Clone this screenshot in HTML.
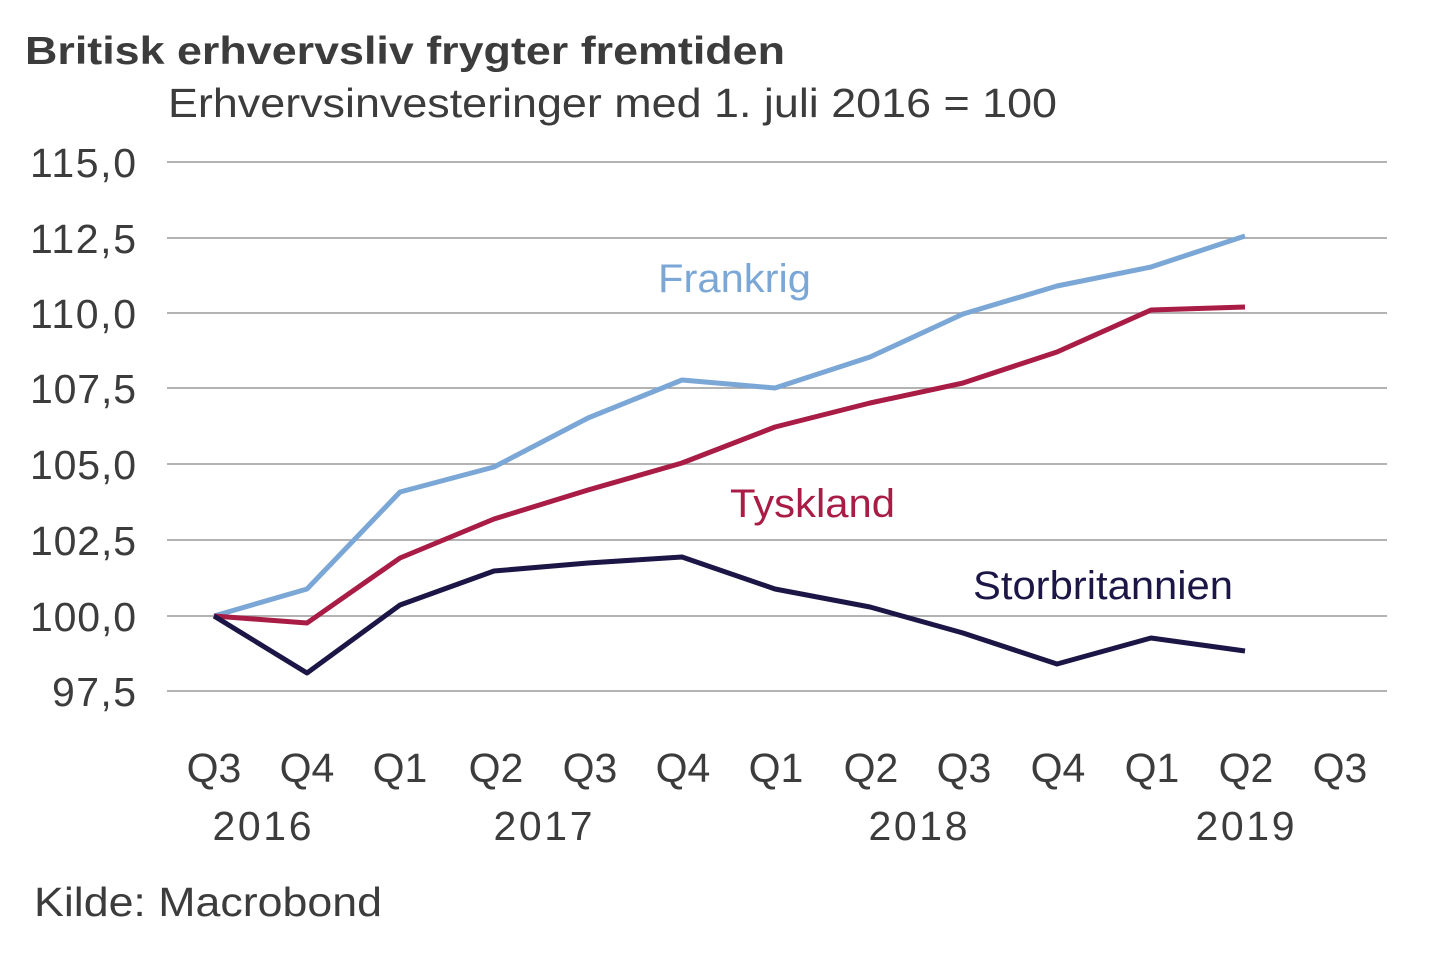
<!DOCTYPE html>
<html><head><meta charset="utf-8"><style>
html,body{margin:0;padding:0;background:#fff;}
svg{display:block;font-family:"Liberation Sans",Arial,sans-serif;}
</style></head><body>
<svg width="1440" height="960" viewBox="0 0 1440 960">
<text x="25" y="64" font-size="39" font-weight="bold" fill="#3c3c3c" textLength="760" lengthAdjust="spacingAndGlyphs">Britisk erhvervsliv frygter fremtiden</text>
<text x="168" y="117" font-size="41" fill="#3c3c3c" textLength="889" lengthAdjust="spacingAndGlyphs">Erhvervsinvesteringer med 1. juli 2016 = 100</text>
<g stroke="#9a9a9a" stroke-width="1.5">
<line x1="167" x2="1387" y1="162" y2="162"/><line x1="167" x2="1387" y1="238" y2="238"/>
<line x1="167" x2="1387" y1="313" y2="313"/><line x1="167" x2="1387" y1="388" y2="388"/>
<line x1="167" x2="1387" y1="464" y2="464"/><line x1="167" x2="1387" y1="540" y2="540"/>
<line x1="167" x2="1387" y1="616" y2="616"/><line x1="167" x2="1387" y1="691" y2="691"/>
</g>
<g font-size="41" fill="#3c3c3c" lengthAdjust="spacingAndGlyphs">
<text x="30" y="177" textLength="106">115,0</text><text x="30" y="253" textLength="106">112,5</text><text x="30" y="328" textLength="106">110,0</text>
<text x="30" y="403" textLength="106">107,5</text><text x="30" y="479" textLength="106">105,0</text><text x="30" y="555" textLength="106">102,5</text>
<text x="30" y="631" textLength="106">100,0</text><text x="52" y="706" textLength="84">97,5</text>
</g>
<g font-size="41" fill="#3c3c3c" text-anchor="middle">
<text x="214" y="782">Q3</text><text x="307" y="782">Q4</text><text x="400" y="782">Q1</text>
<text x="496" y="782">Q2</text><text x="590" y="782">Q3</text><text x="683" y="782">Q4</text>
<text x="776" y="782">Q1</text><text x="871" y="782">Q2</text><text x="964" y="782">Q3</text>
<text x="1058" y="782">Q4</text><text x="1152" y="782">Q1</text><text x="1246" y="782">Q2</text>
<text x="1340" y="782">Q3</text>
<text x="262" y="840" textLength="99">2016</text><text x="543" y="840" textLength="99">2017</text><text x="918" y="840" textLength="99">2018</text><text x="1245" y="840" textLength="99">2019</text>
</g>
<g fill="none" stroke-width="5" stroke-linejoin="round">
<polyline stroke="#7ba7d7" points="214,616 307,589 400,492 494,467 588,418 682,380 775,388 870,357 963,314 1057,286 1151,267 1245,236"/>
<polyline stroke="#a81c45" points="214,616 307,623 400,558 494,519 588,490 682,463 775,427 870,403 963,383 1057,352 1151,310 1245,307"/>
<polyline stroke="#1b1646" points="214,616 307,673 400,605 494,571 588,563 682,557 775,589 870,607 963,633 1057,664 1151,638 1245,651"/>
</g>
<text x="658" y="292" font-size="40" fill="#7ba7d7" textLength="153" lengthAdjust="spacingAndGlyphs">Frankrig</text>
<text x="730" y="517" font-size="40" fill="#a81c45" textLength="165" lengthAdjust="spacingAndGlyphs">Tyskland</text>
<text x="973" y="599" font-size="40" fill="#1b1646" textLength="260" lengthAdjust="spacingAndGlyphs">Storbritannien</text>
<text x="34" y="916" font-size="41" fill="#3c3c3c" textLength="348" lengthAdjust="spacingAndGlyphs">Kilde: Macrobond</text>
</svg>
</body></html>
